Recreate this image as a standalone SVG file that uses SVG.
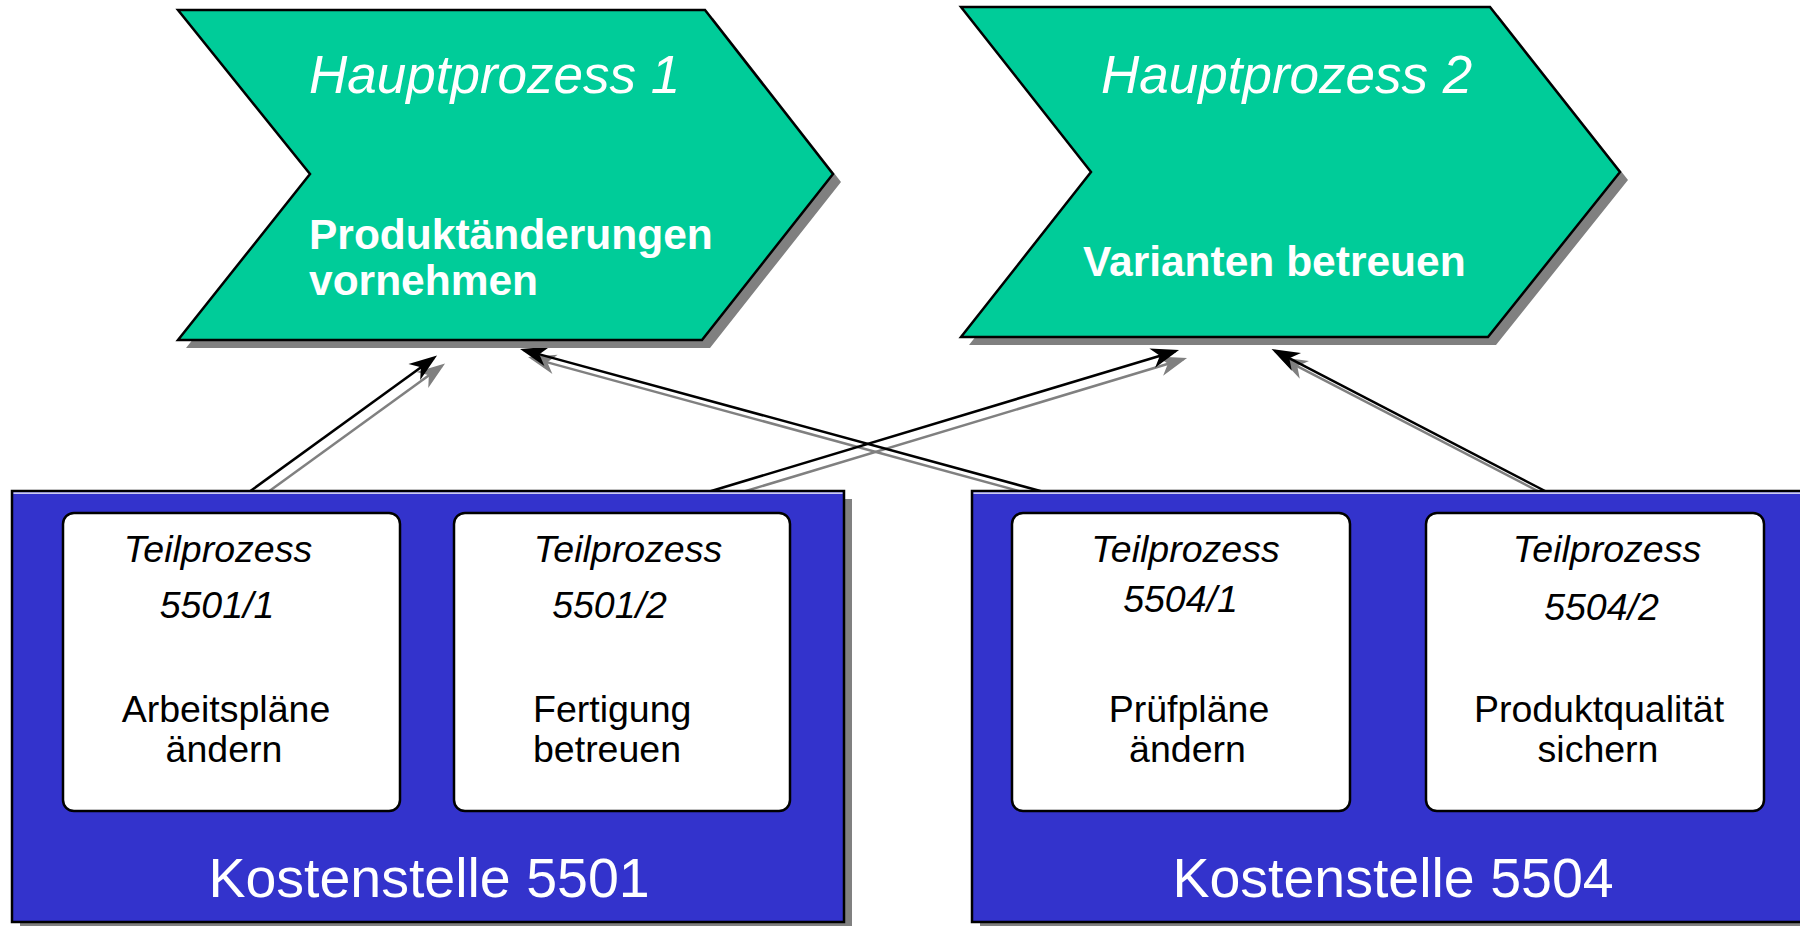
<svg xmlns="http://www.w3.org/2000/svg" width="1800" height="926" viewBox="0 0 1800 926">
<defs>
<style>
.chev{fill:#00CC99;stroke:#000;stroke-width:2.5;stroke-linejoin:miter}
.shadow{fill:#808080;stroke:none}
.kst{fill:#3333CC;stroke:#000;stroke-width:2.5}
.tp{fill:#fff;stroke:#000;stroke-width:2.5}
.conn{fill:none;stroke:#000;stroke-width:2.5}
.connS{fill:none;stroke:#808080;stroke-width:2.5}
.hp{font-family:"Liberation Sans",Arial,sans-serif;font-style:italic;font-size:53px;fill:#fff}
.hpb{font-family:"Liberation Sans",Arial,sans-serif;font-weight:bold;font-size:42.5px;fill:#fff}
.ti{font-family:"Liberation Sans",Arial,sans-serif;font-style:italic;font-size:37.5px;fill:#000;text-anchor:middle}
.tr{font-family:"Liberation Sans",Arial,sans-serif;font-size:37.5px;fill:#000;text-anchor:middle}
.ks{font-family:"Liberation Sans",Arial,sans-serif;font-size:55.5px;fill:#fff;text-anchor:middle}
</style>
<marker id="ah" viewBox="-26 -12 32 24" refX="0" refY="0" markerWidth="32" markerHeight="24" markerUnits="userSpaceOnUse" orient="auto">
<path d="M4,0 L-24,-10 L-16,0 L-24,10 Z" fill="#000"/>
</marker>
<marker id="ahS" viewBox="-26 -12 32 24" refX="0" refY="0" markerWidth="32" markerHeight="24" markerUnits="userSpaceOnUse" orient="auto">
<path d="M4,0 L-24,-10 L-16,0 L-24,10 Z" fill="#808080"/>
</marker>
</defs>
<rect width="1800" height="926" fill="#fff"/>

<g id="connectors">
<g transform="translate(8,8)">
<line class="connS" x1="249" y1="492" x2="433.8" y2="357.9" marker-end="url(#ahS)"/>
<line class="connS" x1="1044" y1="492" x2="523.9" y2="350.1" marker-end="url(#ahS)"/>
<line class="connS" x1="708" y1="492" x2="1175.2" y2="351.2" marker-end="url(#ahS)"/>
<line class="connS" x1="1547" y1="492" x2="1275.1" y2="350.8" marker-end="url(#ahS)"/>
</g>
<line class="conn" x1="249" y1="492" x2="433.8" y2="357.9" marker-end="url(#ah)"/>
<line class="conn" x1="1044" y1="492" x2="523.9" y2="350.1" marker-end="url(#ah)"/>
<line class="conn" x1="708" y1="492" x2="1175.2" y2="351.2" marker-end="url(#ah)"/>
<line class="conn" x1="1547" y1="492" x2="1275.1" y2="350.8" marker-end="url(#ah)"/>
</g>

<g id="hauptprozess1">
<polygon class="shadow" points="186,18 713,18 841,182 710,348 186,348 318,182"/>
<polygon class="chev" points="178,10 705,10 833,174 702,340 178,340 310,174"/>
<text class="hp" x="309" y="93">Hauptprozess 1</text>
<text class="hpb" x="309" y="249">Produktänderungen</text>
<text class="hpb" x="309" y="295">vornehmen</text>
</g>

<g id="hauptprozess2">
<polygon class="shadow" points="969,15 1498,15 1628,180 1496,345 969,345 1099,180"/>
<polygon class="chev" points="961,7 1490,7 1620,172 1488,337 961,337 1091,172"/>
<text class="hp" x="1101" y="93">Hauptprozess 2</text>
<text class="hpb" x="1083" y="276">Varianten betreuen</text>
</g>

<g id="kostenstelle5501">
<rect class="shadow" x="20" y="499" width="832" height="431"/>
<rect class="kst" x="12" y="491" width="832" height="431"/>
<line x1="13.5" y1="493.2" x2="842.5" y2="493.2" stroke="#fff" stroke-width="1.3"/>
<text class="ks" x="429" y="897">Kostenstelle 5501</text>
</g>

<g id="kostenstelle5504">
<rect class="shadow" x="980" y="499" width="850" height="431"/>
<rect class="kst" x="972" y="491" width="850" height="431"/>
<line x1="973.5" y1="493.2" x2="1820" y2="493.2" stroke="#fff" stroke-width="1.3"/>
<text class="ks" x="1393" y="897">Kostenstelle 5504</text>
</g>

<g id="teilprozess5501-1">
<rect class="tp" x="63" y="513" width="337" height="298" rx="11" ry="11"/>
<text class="ti" x="218" y="562">Teilprozess</text>
<text class="ti" x="217" y="618">5501/1</text>
<text class="tr" x="226" y="722">Arbeitspläne</text>
<text class="tr" x="224" y="762">ändern</text>
</g>

<g id="teilprozess5501-2">
<rect class="tp" x="454" y="513" width="336" height="298" rx="11" ry="11"/>
<text class="ti" x="628" y="562">Teilprozess</text>
<text class="ti" x="609.5" y="618">5501/2</text>
<text class="tr" x="533" y="722" style="text-anchor:start">Fertigung</text>
<text class="tr" x="533" y="762" style="text-anchor:start">betreuen</text>
</g>

<g id="teilprozess5504-1">
<rect class="tp" x="1012" y="513" width="338" height="298" rx="11" ry="11"/>
<text class="ti" x="1185.5" y="562">Teilprozess</text>
<text class="ti" x="1180.5" y="612">5504/1</text>
<text class="tr" x="1189" y="722">Prüfpläne</text>
<text class="tr" x="1187.5" y="762">ändern</text>
</g>

<g id="teilprozess5504-2">
<rect class="tp" x="1426" y="513" width="338" height="298" rx="11" ry="11"/>
<text class="ti" x="1607" y="562">Teilprozess</text>
<text class="ti" x="1601.5" y="620">5504/2</text>
<text class="tr" x="1599" y="722">Produktqualität</text>
<text class="tr" x="1598" y="762">sichern</text>
</g>
</svg>
